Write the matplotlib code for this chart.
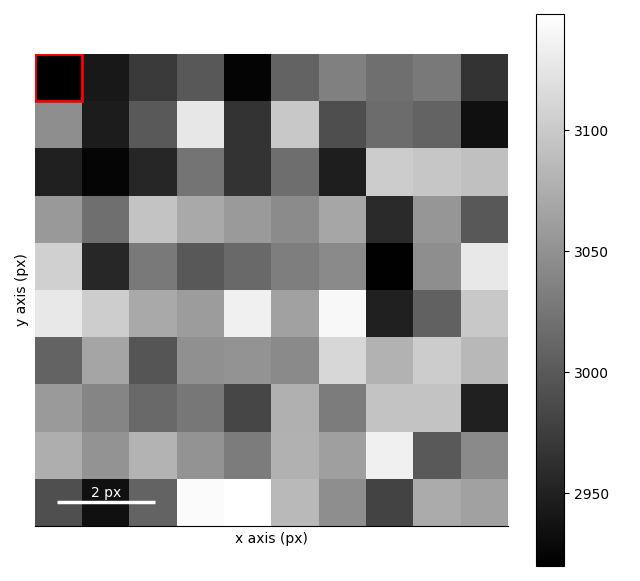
import numpy as np
import matplotlib
matplotlib.use("Agg")
import matplotlib.pyplot as plt
from matplotlib.patches import Rectangle

row0 = [2920, 2942, 2972, 2999, 2924, 3009, 3034, 3019, 3029, 2966]
row1 = [3047, 2945, 3001, 3126, 2966, 3099, 2990, 3017, 3009, 2935]
row2 = [2950, 2925, 2954, 3024, 2966, 3018, 2947, 3102, 3097, 3091]
row3 = [3057, 3019, 3095, 3071, 3058, 3044, 3068, 2958, 3054, 2999]
row4 = [3106, 2955, 3029, 2999, 3015, 3033, 3043, 2921, 3047, 3127]
row5 = [3127, 3103, 3071, 3059, 3134, 3064, 3141, 2950, 3008, 3099]
row6 = [3009, 3067, 2996, 3049, 3051, 3043, 3112, 3079, 3102, 3084]
row7 = [3058, 3039, 3015, 3026, 2983, 3077, 3031, 3094, 3094, 2950]
row8 = [3075, 3051, 3080, 3051, 3031, 3078, 3062, 3134, 3001, 3043]
row9 = [2991, 2935, 3009, 3144, 3148, 3085, 3047, 2980, 3073, 3064]
data = np.array([row0, row1, row2, row3, row4, row5, row6, row7, row8, row9], dtype=float)

cbar_ticks = [2950, 3000, 3050, 3100]
scalebar_len = 2
scalebar_label = "2 px"

W, H = 640, 581
fig = plt.figure(figsize=(W / 100, H / 100), dpi=100)
ax = fig.add_axes([35 / W, 1 - 526 / H, (508 - 35) / W, (526 - 54) / H])
cax = fig.add_axes([536 / W, 1 - 566 / H, (564 - 536) / W, (566 - 14) / H])

im = ax.imshow(data, cmap="gray", interpolation="nearest", aspect="auto")
ax.set_xticks([])
ax.set_yticks([])
for s in ["top", "left", "right"]:
    ax.spines[s].set_visible(False)
ax.set_xlabel("x axis (px)")
ax.set_ylabel("y axis (px)")

ax.add_patch(Rectangle((-0.5, -0.5), 1, 1, fill=False, edgecolor="red", linewidth=2))

x0 = -0.03
ax.plot([x0, x0 + scalebar_len + 0.06], [9.0, 9.0], color="white", linewidth=2.5, solid_capstyle="butt")
ax.text(x0 + scalebar_len / 2 + 0.03, 8.95, scalebar_label, color="white", ha="center", va="bottom", fontsize=10)

cb = fig.colorbar(im, cax=cax)
cb.set_ticks(cbar_ticks)

fig.savefig("out.png", dpi=100)
